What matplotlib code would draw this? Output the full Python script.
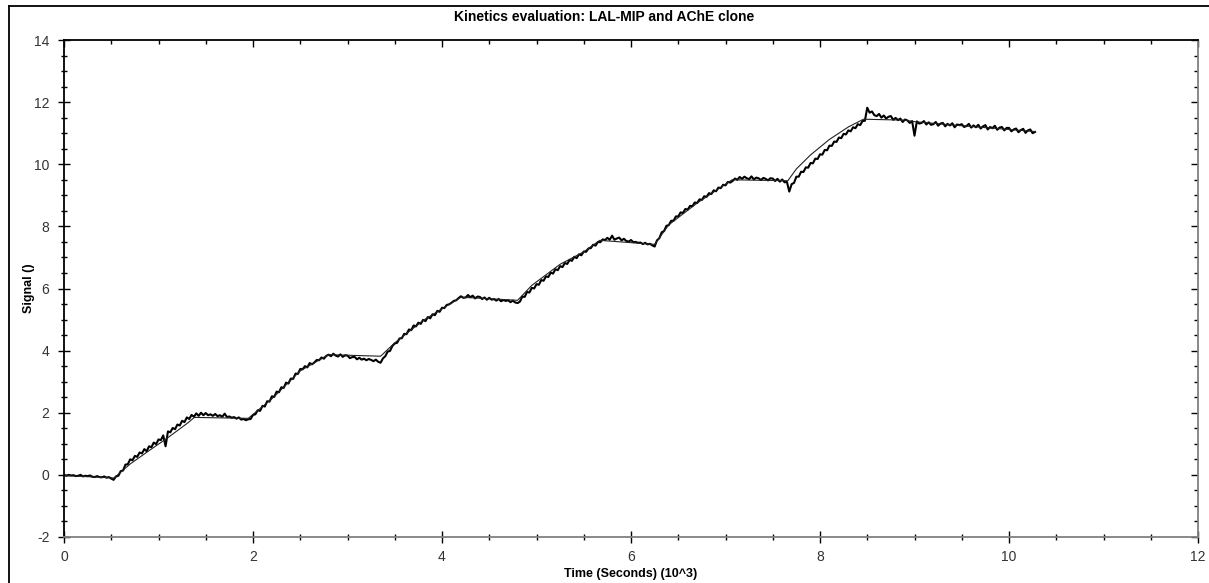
import numpy as np
import matplotlib
matplotlib.use("Agg")
import matplotlib.pyplot as plt
from matplotlib.lines import Line2D
from matplotlib.ticker import MultipleLocator

plt.rcParams['font.family'] = ['Liberation Sans', 'DejaVu Sans']
plt.rcParams['axes.unicode_minus'] = False

# sensor trace, sampled every 25 s (time in seconds)
time_s = np.arange(0, 10300, 25)
signal = [
    0.01, -0.03, 0.00, -0.02, -0.01, -0.04, -0.03, 0.00, -0.05, -0.03, -0.04, -0.02, -0.06, -0.07, -0.04, -0.07, -0.08, -0.05, -0.09, -0.07,
    -0.12, -0.16, -0.05, -0.03, 0.12, 0.14, 0.33, 0.34, 0.50, 0.47, 0.61, 0.58, 0.72, 0.69, 0.83, 0.76, 0.92, 0.89, 1.04, 0.99,
    1.14, 1.12, 1.27, 0.92, 1.40, 1.37, 1.51, 1.47, 1.62, 1.59, 1.74, 1.70, 1.85, 1.80, 1.93, 1.87, 1.98, 1.90, 2.00, 1.92,
    1.99, 1.92, 1.95, 1.90, 1.96, 1.89, 1.92, 1.87, 1.97, 1.86, 1.88, 1.84, 1.86, 1.81, 1.85, 1.78, 1.80, 1.76, 1.79, 1.80,
    1.93, 1.95, 2.08, 2.06, 2.22, 2.20, 2.37, 2.36, 2.53, 2.51, 2.68, 2.66, 2.82, 2.80, 2.97, 2.94, 3.10, 3.09, 3.26, 3.25,
    3.41, 3.40, 3.50, 3.46, 3.60, 3.56, 3.62, 3.70, 3.69, 3.78, 3.74, 3.83, 3.87, 3.82, 3.90, 3.84, 3.81, 3.88, 3.80, 3.85,
    3.84, 3.76, 3.79, 3.80, 3.72, 3.77, 3.71, 3.74, 3.69, 3.73, 3.70, 3.66, 3.71, 3.64, 3.61, 3.75, 3.82, 3.97, 3.99, 4.15,
    4.23, 4.25, 4.39, 4.40, 4.54, 4.53, 4.68, 4.66, 4.81, 4.78, 4.90, 4.86, 4.99, 4.95, 5.08, 5.04, 5.17, 5.14, 5.28, 5.25,
    5.38, 5.37, 5.47, 5.49, 5.54, 5.60, 5.62, 5.69, 5.75, 5.70, 5.71, 5.79, 5.72, 5.77, 5.68, 5.74, 5.73, 5.66, 5.71, 5.64,
    5.70, 5.64, 5.66, 5.61, 5.66, 5.59, 5.63, 5.60, 5.62, 5.56, 5.61, 5.55, 5.53, 5.58, 5.74, 5.73, 5.89, 5.87, 6.02, 6.00,
    6.14, 6.12, 6.27, 6.25, 6.39, 6.37, 6.51, 6.48, 6.62, 6.59, 6.72, 6.69, 6.82, 6.79, 6.92, 6.89, 7.02, 6.98, 7.10, 7.07,
    7.19, 7.18, 7.29, 7.30, 7.41, 7.38, 7.50, 7.49, 7.58, 7.56, 7.63, 7.57, 7.70, 7.57, 7.61, 7.64, 7.55, 7.60, 7.53, 7.51,
    7.56, 7.49, 7.50, 7.47, 7.48, 7.43, 7.47, 7.42, 7.44, 7.39, 7.35, 7.55, 7.62, 7.81, 7.85, 8.02, 8.04, 8.18, 8.18, 8.32,
    8.32, 8.45, 8.43, 8.56, 8.54, 8.66, 8.65, 8.77, 8.75, 8.87, 8.85, 8.97, 8.95, 9.07, 9.04, 9.16, 9.13, 9.25, 9.23, 9.34,
    9.32, 9.43, 9.41, 9.46, 9.54, 9.50, 9.59, 9.53, 9.60, 9.55, 9.52, 9.61, 9.51, 9.57, 9.55, 9.49, 9.56, 9.53, 9.48, 9.55,
    9.54, 9.46, 9.53, 9.44, 9.51, 9.42, 9.43, 9.12, 9.36, 9.40, 9.60, 9.60, 9.76, 9.75, 9.90, 9.89, 10.04, 10.03, 10.18, 10.17,
    10.32, 10.31, 10.46, 10.45, 10.60, 10.59, 10.73, 10.72, 10.86, 10.84, 10.98, 10.96, 11.09, 11.06, 11.19, 11.16, 11.29, 11.26, 11.39, 11.40,
    11.82, 11.66, 11.70, 11.58, 11.55, 11.62, 11.50, 11.57, 11.47, 11.53, 11.55, 11.43, 11.49, 11.42, 11.47, 11.36, 11.44, 11.41, 11.33, 11.39,
    10.92, 11.38, 11.31, 11.33, 11.39, 11.28, 11.35, 11.27, 11.29, 11.36, 11.24, 11.31, 11.33, 11.22, 11.30, 11.25, 11.32, 11.19, 11.28, 11.26,
    11.29, 11.20, 11.23, 11.30, 11.18, 11.25, 11.19, 11.27, 11.15, 11.22, 11.26, 11.12, 11.20, 11.16, 11.24, 11.11, 11.18, 11.20, 11.09, 11.17,
    11.17, 11.06, 11.12, 11.15, 11.03, 11.10, 11.14, 11.01, 11.09, 11.12, 11.00, 11.04,
]

# fitted kinetic model (time in seconds)
fit_time_s = [0, 530, 700, 900, 1100, 1300, 1380, 1950, 2200, 2500, 2800, 3350, 3500, 3800,
              4200, 4800, 4950, 5250, 5500, 5670, 6250, 6400, 6700, 7070, 7660, 7750, 7900,
              8100, 8300, 8460, 8900, 9000, 9500, 10000, 10280]
fit_signal = [-0.02, -0.10, 0.35, 0.78, 1.20, 1.65, 1.85, 1.82, 2.45, 3.35, 3.87, 3.82, 4.25, 4.97,
              5.72, 5.62, 6.10, 6.78, 7.18, 7.55, 7.42, 8.05, 8.75, 9.50, 9.47, 9.85, 10.30,
              10.80, 11.20, 11.45, 11.42, 11.37, 11.24, 11.12, 11.05]

fig = plt.figure(figsize=(12.09, 5.83), dpi=100)
ax = fig.add_axes([64 / 1209, 46 / 583, 1134 / 1209, 497 / 583])

ax.plot(time_s / 1000, signal, color='black', lw=1.5)
ax.plot(np.array(fit_time_s) / 1000, fit_signal, color='#222222', lw=0.8)

ax.set_xlim(0, 12)
ax.set_ylim(-2, 14)
ax.xaxis.set_major_locator(MultipleLocator(2))
ax.xaxis.set_minor_locator(MultipleLocator(0.5))
ax.yaxis.set_major_locator(MultipleLocator(2))
ax.yaxis.set_minor_locator(MultipleLocator(0.5))

ax.spines['left'].set_color('black')
ax.spines['top'].set_color('black')
ax.spines['bottom'].set_color('#808080')
ax.spines['right'].set_color('#808080')
for s in ax.spines.values():
    s.set_linewidth(1.3)

ax.tick_params(which='major', direction='inout', length=9, width=1, colors='black',
               labelcolor='#333333', labelsize=10)
ax.tick_params(which='minor', direction='inout', length=5, width=1, colors='black')
ax.tick_params(axis='x', pad=5)
ax.tick_params(axis='y', pad=6)

# ticks on top and right edges point inward only
top = ax.secondary_xaxis('top')
top.xaxis.set_major_locator(MultipleLocator(2))
top.xaxis.set_minor_locator(MultipleLocator(0.5))
top.tick_params(which='major', direction='in', length=5, width=1, labeltop=False)
top.tick_params(which='minor', direction='in', length=3, width=1)
top.spines['top'].set_visible(False)
right = ax.secondary_yaxis('right')
right.yaxis.set_major_locator(MultipleLocator(2))
right.yaxis.set_minor_locator(MultipleLocator(0.5))
right.tick_params(which='major', direction='in', length=5, width=1, labelright=False)
right.tick_params(which='minor', direction='in', length=3, width=1)
right.spines['right'].set_visible(False)

ax.set_xlabel('Time (Seconds) (10^3)', fontsize=9, fontweight='bold', labelpad=3)
ax.set_ylabel('Signal ()', fontsize=9, fontweight='bold', labelpad=-1)
fig.text(0.5, 1 - 17 / 583, 'Kinetics evaluation: LAL-MIP and AChE clone',
         ha='center', va='center', fontsize=10, fontweight='bold')

# outer frame
fig.add_artist(Line2D([9 / 1209, 9 / 1209], [0, 1 - 6 / 583], color='black', lw=1.3))
fig.add_artist(Line2D([9 / 1209, 1], [1 - 6 / 583, 1 - 6 / 583], color='black', lw=1.3))

fig.savefig('out.png', dpi=100)
